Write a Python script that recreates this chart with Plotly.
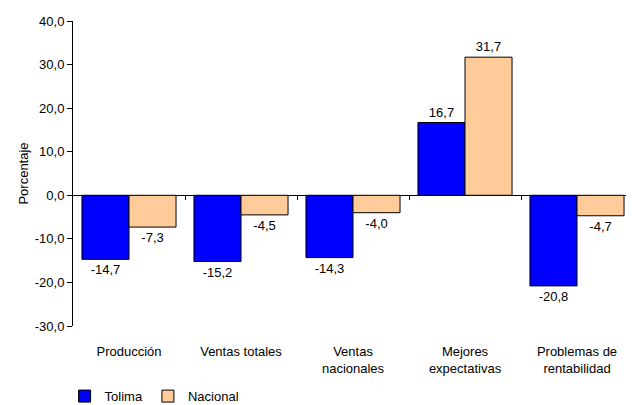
import plotly.graph_objects as go

categories = ["Producción", "Ventas totales", "Ventas<br>nacionales", "Mejores<br>expectativas", "Problemas de<br>rentabilidad"]
tolima = [-14.7, -15.2, -14.3, 16.7, -20.8]
nacional = [-7.3, -4.5, -4.0, 31.7, -4.7]
y_ticks = [-30, -20, -10, 0, 10, 20, 30, 40]
y_ticktext = ["-30,0", "-20,0", "-10,0", "0,0", "10,0", "20,0", "30,0", "40,0"]
boundaries = [0.5, 1.5, 2.5, 3.5]

font_family = "Liberation Sans, Arial, sans-serif"

fig = go.Figure()
fig.add_trace(go.Bar(
    x=list(range(len(categories))), y=tolima, name="Tolima",
    marker=dict(color="#0000FF", line=dict(color="black", width=1)),
    texttemplate="%{y:.1f}", textposition="outside",
    textfont=dict(size=13, color="black", family=font_family),
    cliponaxis=False,
))
fig.add_trace(go.Bar(
    x=list(range(len(categories))), y=nacional, name="Nacional",
    marker=dict(color="#FFCC99", line=dict(color="black", width=1)),
    texttemplate="%{y:.1f}", textposition="outside",
    textfont=dict(size=13, color="black", family=font_family),
    cliponaxis=False,
))
# invisible helper trace for category boundary ticks on the zero line
fig.add_trace(go.Scatter(x=boundaries, y=[0] * len(boundaries), xaxis="x2", mode="markers",
                         marker=dict(opacity=0), showlegend=False, hoverinfo="skip"))

fig.update_layout(
    width=626, height=397,
    margin=dict(l=65, r=1, t=13, b=79, autoexpand=False),
    paper_bgcolor="white", plot_bgcolor="white",
    font=dict(family=font_family, size=13, color="black"),
    separators=",.",
    barmode="group", bargap=0.16, bargroupgap=0,
    showlegend=True,
    legend=dict(orientation="h", x=-0.015, y=-0.23, xanchor="left", yanchor="middle",
                font=dict(size=13), itemwidth=30, traceorder="normal", tracegroupgap=0),
    xaxis=dict(range=[-0.5, 4.5], tickvals=list(range(len(categories))), ticktext=categories,
               showline=False, showgrid=False, zeroline=False, ticks="", automargin=False,
               ticklabelstandoff=16, tickfont=dict(size=13)),
    xaxis2=dict(range=[-0.5, 4.5], overlaying="x", anchor="free", position=30 / 70,
                tickvals=boundaries, showticklabels=False, ticks="outside", ticklen=4,
                tickcolor="black", showline=False, showgrid=False, zeroline=False, side="bottom"),
    yaxis=dict(range=[-30, 40], tickvals=y_ticks, ticktext=y_ticktext, automargin=False,
               showline=True, linecolor="black", linewidth=1,
               ticks="outside", ticklen=5, tickcolor="black",
               showgrid=False, zeroline=True, zerolinecolor="black", zerolinewidth=1,
               tickfont=dict(size=13),
               title=dict(text="Porcentaje", font=dict(size=13), standoff=3)),
)

fig.write_html("out.html")
